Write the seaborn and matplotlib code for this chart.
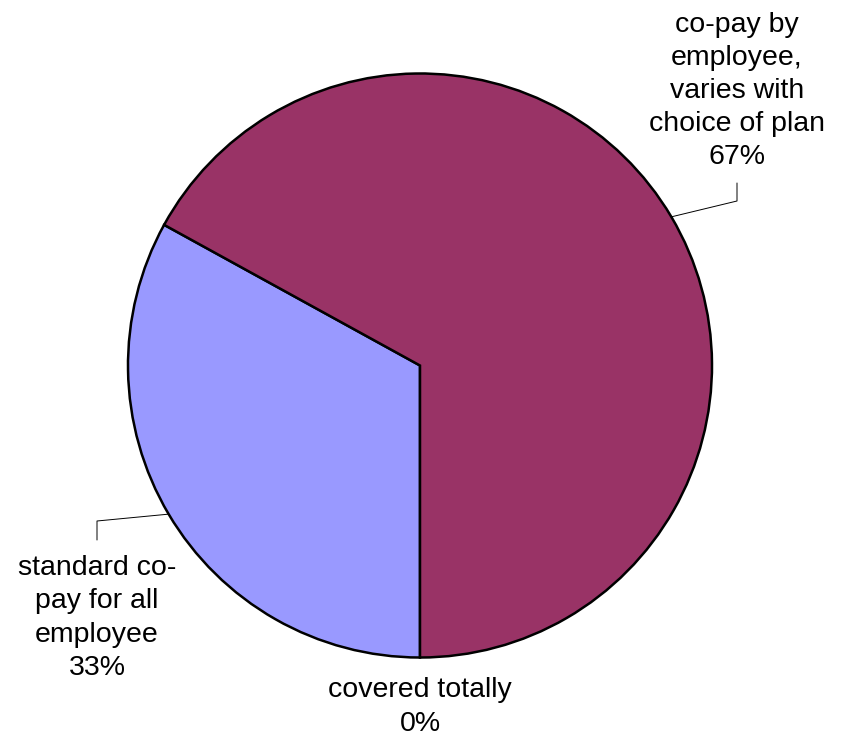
import numpy as np
import matplotlib
matplotlib.use("Agg")
import matplotlib.pyplot as plt
import seaborn as sns

# Share of employees by how the co-pay is handled
categories = ["covered totally", "standard co-pay for all employee",
              "co-pay by employee, varies with choice of plan"]
label_text = ["covered totally", "standard co-\npay for all\nemployee",
              "co-pay by\nemployee,\nvaries with\nchoice of plan"]
values = [0, 33, 67]
colors = ["#FFFFCC", "#9999FF", "#993366"]

sns.set_theme(style="white")
plt.rcParams["font.family"] = ["Liberation Sans", "DejaVu Sans"]

W, H = 853, 741
CX, CY, R = 420.0, 365.5, 292.0   # pie centre and radius in pixels


def to_data(px, py):
    return (px - CX) / R, (CY - py) / R


fig = plt.figure(figsize=(W / 100, H / 100), dpi=100)
ax = fig.add_axes([0, 0, 1, 1])
wedges, _ = ax.pie(values, colors=colors, startangle=-90, counterclock=False,
                   radius=1.0, center=(0, 0),
                   wedgeprops=dict(edgecolor="black", linewidth=1.8))
ax.set_aspect("equal")
x0, y1 = to_data(0, 0)
x1, y0 = to_data(W, H)
ax.set_xlim(x0, x1)
ax.set_ylim(y0, y1)
ax.axis("off")

total = sum(values)
font = dict(fontsize=20.5, ha="center", va="center", multialignment="center",
            linespacing=1.36, color="black")

# label block centres and leader elbows (pixels)
layout = {
    0: dict(text=(420, 707), elbow=None),
    1: dict(text=(97, 618), elbow=[(97, 521), (97, 540)]),
    2: dict(text=(737, 91), elbow=[(737, 201), (737, 183)]),
}

for i, w in enumerate(wedges):
    pct = round(100 * values[i] / total)
    lay = layout[i]
    tx, ty = to_data(*lay["text"])
    ax.text(tx, ty, f"{label_text[i]}\n{pct}%", **font)
    if lay["elbow"] is not None:
        mid = np.deg2rad((w.theta1 + w.theta2) / 2)
        xs = [np.cos(mid)]
        ys = [np.sin(mid)]
        for p in lay["elbow"]:
            dx, dy = to_data(*p)
            xs.append(dx)
            ys.append(dy)
        ax.plot(xs, ys, color="black", linewidth=0.7)

fig.savefig("out.png", dpi=100, facecolor="white")
